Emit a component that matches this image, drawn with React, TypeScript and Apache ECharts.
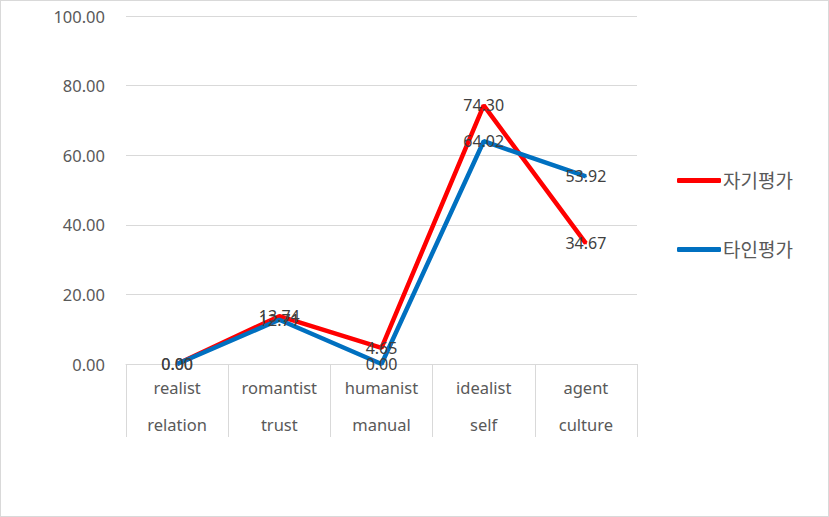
import React, { useEffect, useRef } from "react";
import * as echarts from "echarts";

const categories = ["realist\nrelation", "romantist\ntrust", "humanist\nmanual", "idealist\nself", "agent\nculture"];
const selfValues = [0.0, 13.74, 4.65, 74.3, 34.67];
const otherValues = [0.0, 12.71, 0.0, 64.02, 53.92];
const seriesNames = ["자기평가", "타인평가"];

const FONT = "'Noto Sans', 'Noto Sans CJK KR', sans-serif";

export default function App() {
  const ref = useRef<HTMLDivElement>(null);
  useEffect(() => {
    if (!ref.current) return;
    const chart = echarts.init(ref.current, undefined, { renderer: "svg" });
    const label = {
      show: true,
      position: "inside",
      color: "#404040",
      fontSize: 16,
      fontFamily: FONT,
      formatter: (p: any) => Number(p.value).toFixed(2),
    };
    chart.setOption({
      animation: false,
      grid: { left: 125, right: 191, top: 15, bottom: 152 },
      legend: {
        orient: "vertical",
        left: 671,
        top: 165,
        itemWidth: 44,
        itemHeight: 5,
        itemGap: 50,
        icon: "roundRect",
        textStyle: { fontSize: 19, color: "#595959", fontFamily: FONT, padding: [0, 0, 0, -3] },
        data: seriesNames,
      },
      xAxis: {
        type: "category",
        data: categories,
        boundaryGap: true,
        axisLine: { show: true, lineStyle: { color: "#d9d9d9", width: 1 } },
        axisTick: { show: true, length: 73, interval: 0, lineStyle: { color: "#d9d9d9", width: 1 } },
        axisLabel: {
          interval: 0,
          color: "#595959",
          fontSize: 16.5,
          fontFamily: FONT,
          lineHeight: 37,
          margin: 5,
        },
        splitLine: { show: false },
      },
      yAxis: {
        type: "value",
        min: 0,
        max: 100,
        interval: 20,
        axisLine: { show: false },
        axisTick: { show: false },
        axisLabel: {
          color: "#595959",
          fontSize: 16.5,
          fontFamily: FONT,
          margin: 21,
          formatter: (v: number) => v.toFixed(2),
        },
        splitLine: { lineStyle: { color: "#d9d9d9", width: 1 } },
      },
      series: [
        {
          name: seriesNames[0],
          type: "line",
          data: selfValues,
          symbol: "circle",
          symbolSize: 2,
          itemStyle: { color: "#ff0000" },
          lineStyle: { color: "#ff0000", width: 4.5 },
          label,
        },
        {
          name: seriesNames[1],
          type: "line",
          data: otherValues,
          symbol: "circle",
          symbolSize: 2,
          itemStyle: { color: "#0070c0" },
          lineStyle: { color: "#0070c0", width: 4.5 },
          label,
        },
      ],
    });
    return () => chart.dispose();
  }, []);
  return (
    <div
      style={{
        position: "fixed",
        left: 0,
        top: 0,
        width: 829,
        height: 517,
        boxSizing: "border-box",
        border: "1px solid #d9d9d9",
        background: "#fff",
      }}
    >
      <div ref={ref} style={{ width: "100%", height: "100%" }} />
    </div>
  );
}
